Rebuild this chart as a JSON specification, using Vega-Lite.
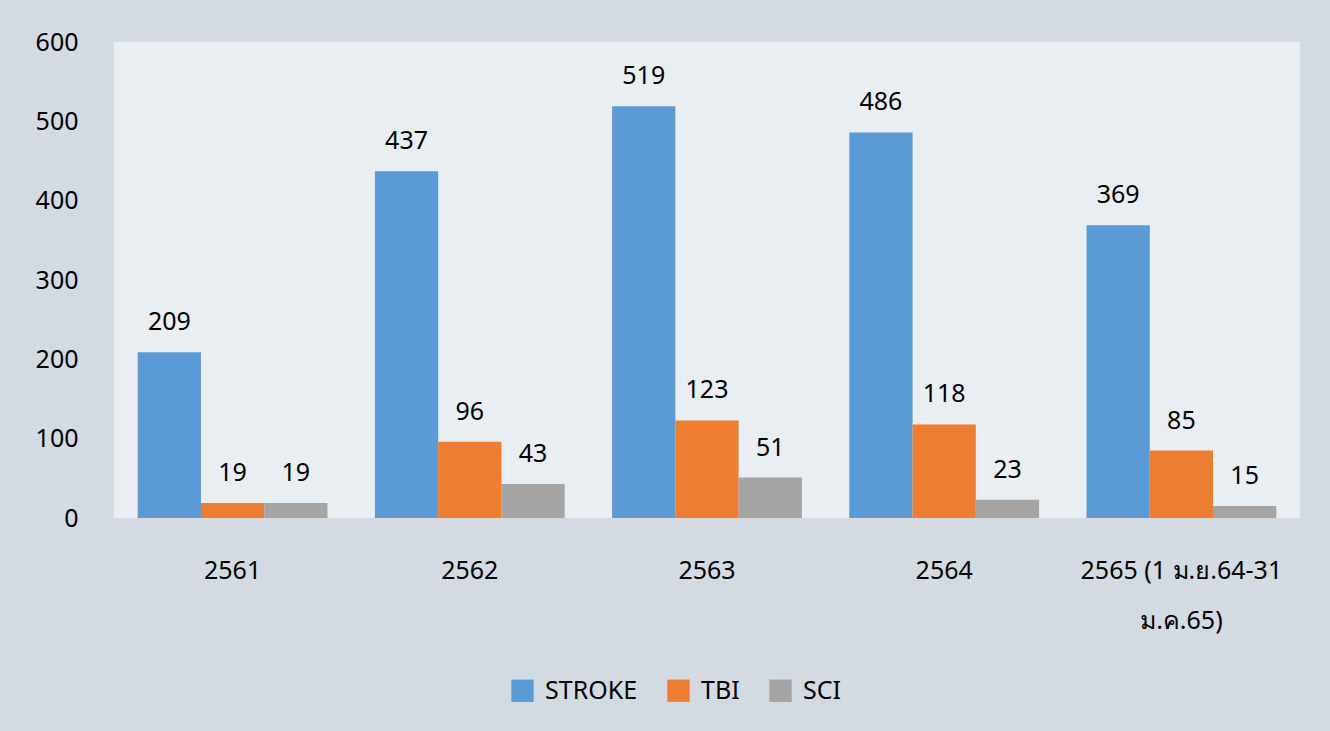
{
  "$schema": "https://vega.github.io/schema/vega-lite/v6.json",
  "autosize": "none",
  "width": 1186,
  "height": 476,
  "padding": {"left": 114, "top": 42, "right": 30, "bottom": 213},
  "background": "#d3dae1",
  "config": {
    "view": {"fill": "#e8eef1", "stroke": null},
    "font": "Noto Sans"
  },
  "data": {
    "values": [
      {"year": "2561", "type": "STROKE", "value": 209},
      {"year": "2561", "type": "TBI", "value": 19},
      {"year": "2561", "type": "SCI", "value": 19},
      {"year": "2562", "type": "STROKE", "value": 437},
      {"year": "2562", "type": "TBI", "value": 96},
      {"year": "2562", "type": "SCI", "value": 43},
      {"year": "2563", "type": "STROKE", "value": 519},
      {"year": "2563", "type": "TBI", "value": 123},
      {"year": "2563", "type": "SCI", "value": 51},
      {"year": "2564", "type": "STROKE", "value": 486},
      {"year": "2564", "type": "TBI", "value": 118},
      {"year": "2564", "type": "SCI", "value": 23},
      {"year": "2565 (1 ม.ย.64-31 ม.ค.65)", "type": "STROKE", "value": 369},
      {"year": "2565 (1 ม.ย.64-31 ม.ค.65)", "type": "TBI", "value": 85},
      {"year": "2565 (1 ม.ย.64-31 ม.ค.65)", "type": "SCI", "value": 15}
    ]
  },
  "encoding": {
    "x": {
      "field": "year", "type": "nominal", "sort": null, "title": null,
      "scale": {"paddingInner": 0.2, "paddingOuter": 0.1},
      "axis": {
        "labelAngle": 0, "labelFontSize": 25, "labelColor": "#000000",
        "labelPadding": 52, "ticks": false, "domainColor": "#d9d9d9",
        "labelLineHeight": 50, "labelBaseline": "middle", "labelLimit": 0,
        "labelExpr": "datum.label == '2565 (1 ม.ย.64-31 ม.ค.65)' ? ['2565 (1 ม.ย.64-31', 'ม.ค.65)'] : datum.label"
      }
    },
    "xOffset": {"field": "type", "type": "nominal", "sort": ["STROKE", "TBI", "SCI"]},
    "y": {
      "field": "value", "type": "quantitative", "title": null,
      "scale": {"domain": [0, 600]},
      "axis": {
        "values": [0, 100, 200, 300, 400, 500, 600],
        "labelFontSize": 25, "labelColor": "#000000", "labelPadding": 36,
        "ticks": false, "domain": false, "grid": false
      }
    }
  },
  "layer": [
    {
      "mark": {"type": "bar"},
      "encoding": {
        "color": {
          "field": "type", "type": "nominal", "sort": ["STROKE", "TBI", "SCI"],
          "scale": {"domain": ["STROKE", "TBI", "SCI"], "range": ["#5b9bd5", "#ed7d31", "#a5a5a5"]},
          "legend": {
            "title": null, "orient": "none", "direction": "horizontal",
            "legendX": 396, "legendY": 636,
            "symbolType": "square", "symbolSize": 500, "symbolStrokeWidth": 0,
            "labelFontSize": 25, "labelColor": "#000000",
            "columnPadding": 28, "labelOffset": 10
          }
        }
      }
    },
    {
      "mark": {"type": "text", "baseline": "bottom", "dy": -17, "fontSize": 25, "color": "#000000"},
      "encoding": {"text": {"field": "value", "type": "quantitative"}}
    }
  ]
}
